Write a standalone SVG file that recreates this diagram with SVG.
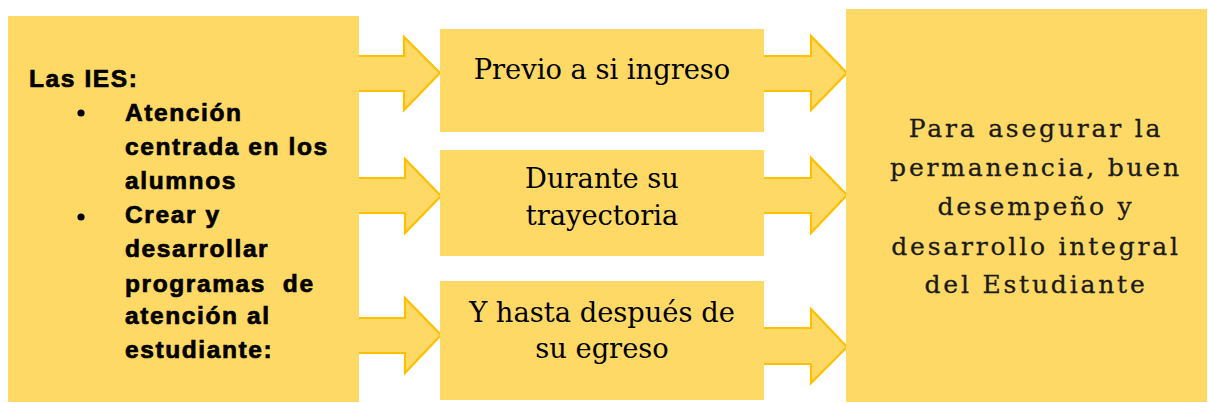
<svg xmlns="http://www.w3.org/2000/svg" width="1208" height="403" viewBox="0 0 1208 403">
<style>
.box{fill:#FFD966;stroke:none}
.arr{fill:#FFD966;stroke:#FFC000;stroke-width:2.2;stroke-linejoin:miter}
.lt{font-family:"Liberation Sans",Arial,sans-serif;font-weight:bold;font-size:24.5px;letter-spacing:1.6px;fill:#000;stroke:#000;stroke-width:0.7px}
.mt{font-family:"DejaVu Serif",serif;font-size:27.3px;fill:#000;text-anchor:middle}
.rt{font-family:"DejaVu Serif",serif;font-size:25px;letter-spacing:2.8px;fill:#1a1a1a;stroke:#1a1a1a;stroke-width:0.3px;text-anchor:middle}
</style>
<rect width="1208" height="403" fill="#fff"/>
<g id="connectors">
<path class="arr" d="M358,56 H404 V37 L440,73 L404,110 V91 H358"/>
<path class="arr" d="M358,178 H405 V159 L441,196 L405,233 V213 H358"/>
<path class="arr" d="M358,318 H405 V298 L441,335 L405,373 V353 H358"/>
<path class="arr" d="M764,56 H811 V36 L847,73 L811,110 V91 H764"/>
<path class="arr" d="M764,178 H811 V158 L847,195 L811,233 V213 H764"/>
<path class="arr" d="M764,328 H811 V309 L847,347 L811,383 V364 H764"/>
</g>
<g id="node-ies">
<rect class="box" x="8" y="16" width="351" height="386"/>
<text class="lt" x="29" y="87">Las IES:</text>
<circle cx="81" cy="113" r="3.6" fill="#000"/>
<text class="lt" x="125" y="121">Atención</text>
<text class="lt" x="125" y="155">centrada en los</text>
<text class="lt" x="125" y="189">alumnos</text>
<circle cx="81" cy="217" r="3.6" fill="#000"/>
<text class="lt" x="125" y="223">Crear y</text>
<text class="lt" x="125" y="257">desarrollar</text>
<text class="lt" x="125" y="292" xml:space="preserve">programas  de</text>
<text class="lt" x="125" y="324">atención al</text>
<text class="lt" x="125" y="358">estudiante:</text>
</g>
<g id="node-previo">
<rect class="box" x="440" y="29" width="324" height="103"/>
<text class="mt" x="602" y="79">Previo a si ingreso</text>
</g>
<g id="node-durante">
<rect class="box" x="440" y="150" width="324" height="106"/>
<text class="mt" x="602" y="188">Durante su</text>
<text class="mt" x="602" y="225">trayectoria</text>
</g>
<g id="node-despues">
<rect class="box" x="440" y="281" width="324" height="119"/>
<text class="mt" x="602" y="322">Y hasta después de</text>
<text class="mt" x="602" y="358">su egreso</text>
</g>
<g id="node-resultado">
<rect class="box" x="846" y="9" width="361" height="393"/>
<text class="rt" x="1036" y="137">Para asegurar la</text>
<text class="rt" x="1036" y="176">permanencia, buen</text>
<text class="rt" x="1036" y="215">desempeño y</text>
<text class="rt" x="1036" y="255">desarrollo integral</text>
<text class="rt" x="1036" y="293">del Estudiante</text>
</g>
</svg>
